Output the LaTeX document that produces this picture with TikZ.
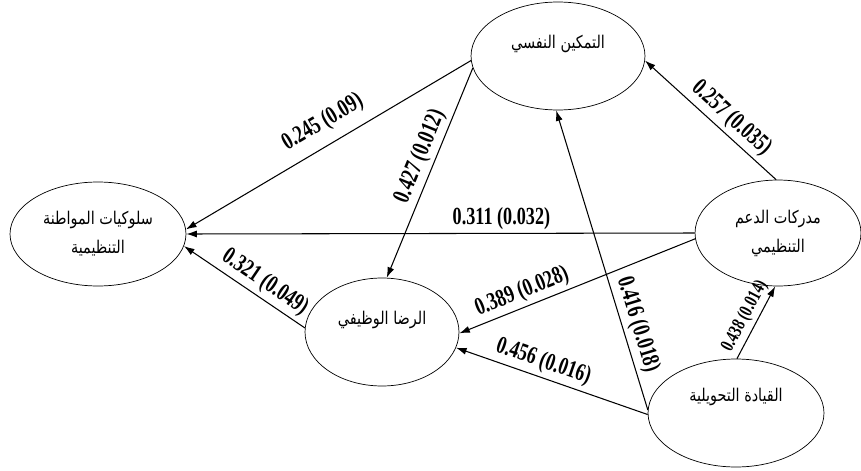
\documentclass[tikz,border=0pt]{standalone}
\usepackage{fontspec}
\setmainfont{Liberation Serif}
\newfontfamily\arabicfont[Script=Arabic, FakeStretch=0.82]{DejaVu Sans}
\newfontfamily\coeffont[FakeStretch=0.74]{Liberation Serif}
\TeXXeTstate=1
\usetikzlibrary{arrows.meta, shapes.geometric}

\begin{document}
\begin{tikzpicture}[
    x=0.02cm, y=-0.02cm,
    >={Latex[length=6pt,width=4pt]},
    latent/.style={
        draw,
        ellipse,
        inner sep=0pt,
        align=center,
        font=\arabicfont\fontsize{10}{16.5}\selectfont
    },
    raised/.style={text height=9pt, text depth=18pt},
    arrow/.style={->, line width=0.6pt},
    coef/.style={
        font=\coeffont\bfseries\fontsize{14}{16}\selectfont,
        sloped,
        above,
        inner sep=2pt
    },
    small coef/.style={
        coef,
        font=\coeffont\bfseries\fontsize{11}{13}\selectfont
    }
]
\useasboundingbox (0,0) rectangle (861,470);

\node[latent, raised, minimum width=3.48cm, minimum height=2.16cm] (emp) at (558,56) {\beginR التمكين النفسي\endR};
\node[latent, minimum width=3.52cm, minimum height=2.08cm] (cit) at (98,234) {\beginR سلوكيات المواطنة\endR\\\beginR التنظيمية\endR};
\node[latent, minimum width=3.32cm, minimum height=2.12cm] (sup) at (778,233) {\beginR مدركات الدعم\endR\\\beginR التنظيمي\endR};
\node[latent, raised, minimum width=3.08cm, minimum height=2.16cm] (sat) at (382,332) {\beginR الرضا الوظيفي\endR};
\node[latent, raised, text depth=22pt, minimum width=3.52cm, minimum height=2.16cm] (lead) at (736,413) {\beginR القيادة التحويلية\endR};

% paths
\draw[arrow] (emp.183) -- node[coef, pos=0.48, above=4pt] {0.245 (0.09)} (cit.3);
\draw[arrow] (emp.188) -- node[coef, pos=0.45] {0.427 (0.012)} (sat.85);
\draw[arrow] (sup.92) -- node[coef, pos=0.42] {0.257 (0.035)} (emp.-3);
\draw[arrow] (sup.180) -- node[coef, pos=0.38] {0.311 (0.032)} (cit.0);
\draw[arrow] (sup.184) -- node[coef, pos=0.71] {0.389 (0.028)} (sat.-1);
\draw[arrow] (sat.177) -- node[coef, pos=0.4] {0.321 (0.049)} (cit.-8);
\draw[arrow] (lead.181) -- node[coef, pos=0.57] {0.456 (0.016)} (sat.-12);
\draw[arrow] (lead.178) -- node[coef, pos=0.27] {0.416 (0.018)} (emp.268);
\draw[arrow] (lead.89) -- node[small coef, pos=0.5] {0.438 (0.014)} (sup.-93);

\end{tikzpicture}
\end{document}
